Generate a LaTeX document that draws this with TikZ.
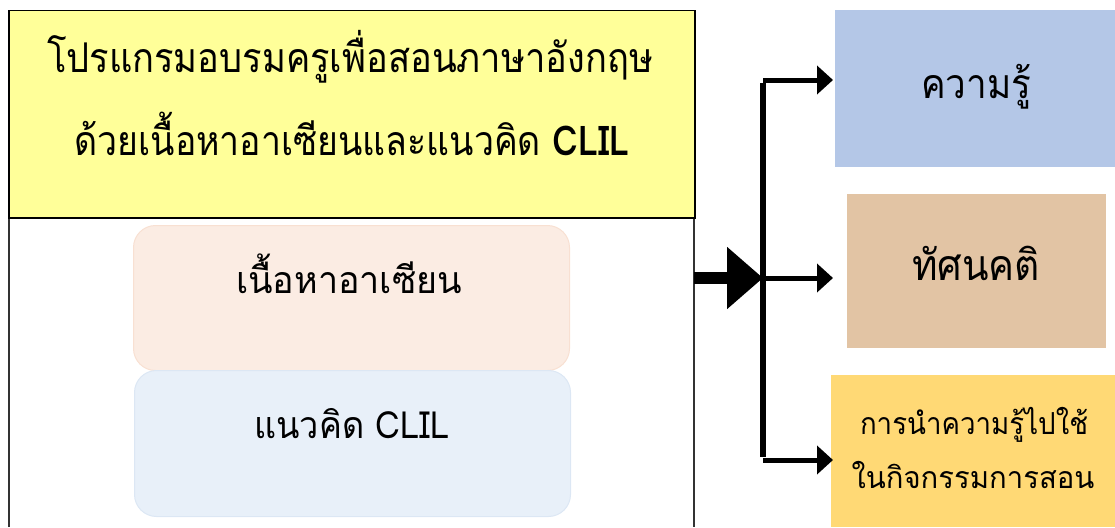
\documentclass[tikz,border=0pt]{standalone}
\usepackage{fontspec}
\usepackage{graphicx}
\newfontfamily\thai[Script=Thai]{Loma}
\usetikzlibrary{arrows.meta}
\definecolor{titleyellow}{HTML}{FFFF99}
\definecolor{peach}{HTML}{FBECE3}
\definecolor{peachline}{HTML}{F8E0D2}
\definecolor{paleblue}{HTML}{E8F0F9}
\definecolor{palebline}{HTML}{DCE7F4}
\definecolor{knowblue}{HTML}{B4C7E7}
\definecolor{attbrown}{HTML}{E2C4A4}
\definecolor{applyyellow}{HTML}{FFD975}
\tikzset{
  box/.style={inner sep=0pt, anchor=north west},
  inner/.style={rounded corners=22pt, line width=1pt},
  branch/.style={line width=5pt, -{Triangle[length=16pt,width=28pt]}},
  txt/.style={text=black, inner sep=0pt, anchor=base}
}
\newsavebox\probebox
\newdimen\probeh
% #1 = x-height in px, #2 = width in px, #3 = text
\newcommand{\fittext}[3]{%
  \sbox\probebox{\thai\fontsize{100pt}{100pt}\selectfont น}%
  \probeh=\ht\probebox
  \ifdim\probeh<1pt \probeh=55pt \fi
  \pgfmathsetmacro\myfsz{#1*100/\probeh}%
  \resizebox{#2pt}{\height}{\thai\fontsize{\myfsz pt}{\myfsz pt}\selectfont #3}}
\begin{document}
\begin{tikzpicture}[x=1pt,y=-1pt]
\useasboundingbox (0,0) rectangle (1115,527);
% outer frame (open at the bottom, runs off the picture)
\draw[line width=1.5pt, black!80] (9,527) -- (9,216) -- (694,216) -- (694,527);
% title box
\node[box, draw=black, line width=1.5pt, fill=titleyellow, minimum width=686pt, minimum height=207pt] (title) at (8,10) {};
\node[txt] (t1) at (350,72) {\fittext{23}{606}{โปรแกรมอบรมครูเพื่อสอนภาษาอังกฤษ}};
\node[txt] (t2) at (352,155) {\fittext{23}{555}{ด้วยเนื้อหาอาเซียนและแนวคิด \textbf{CLIL}}};
% inner rounded boxes
\node[box, inner, draw=peachline, fill=peach, minimum width=436pt, minimum height=145pt] (asean) at (133,225) {};
\node[txt] (asean-t) at (349,293) {\fittext{21}{226}{เนื้อหาอาเซียน}};
\node[box, inner, draw=palebline, fill=paleblue, minimum width=436pt, minimum height=146pt] (clil) at (134,370) {};
\node[txt] (clil-t) at (352,438) {\fittext{21}{195}{แนวคิด CLIL}};
% right boxes
\node[box, fill=knowblue, minimum width=280pt, minimum height=157pt] (know) at (835,10) {};
\node[txt] (know-t) at (976,98) {\fittext{23}{110}{ความรู้}};
\node[box, fill=attbrown, minimum width=259pt, minimum height=154pt] (att) at (847,194) {};
\node[txt] (att-t) at (976,280) {\fittext{24}{128}{ทัศนคติ}};
\node[box, fill=applyyellow, minimum width=284pt, minimum height=152pt] (apply) at (831,375) {};
\node[txt] (apply-t1) at (974,434) {\fittext{17}{228}{การนำความรู้ไปใช้}};
\node[txt] (apply-t2) at (973,488) {\fittext{17}{243}{ในกิจกรรมการสอน}};
% connectors
\coordinate (jtop) at (763,80);
\coordinate (jmid) at (763,278);
\coordinate (jbot) at (763,460);
\coordinate (src) at (694,278);
\draw[line width=12pt, -{Triangle[length=36pt,width=60pt]}] (src) -- (jmid);
\draw[line width=6pt] ([yshift=-3pt]jtop) -- ([yshift=3pt]jbot);
\draw[branch] (jtop) -- (833,80);
\draw[branch] (jmid) -- (833,278);
\draw[branch] (jbot) -- (833,460);
\end{tikzpicture}
\end{document}
